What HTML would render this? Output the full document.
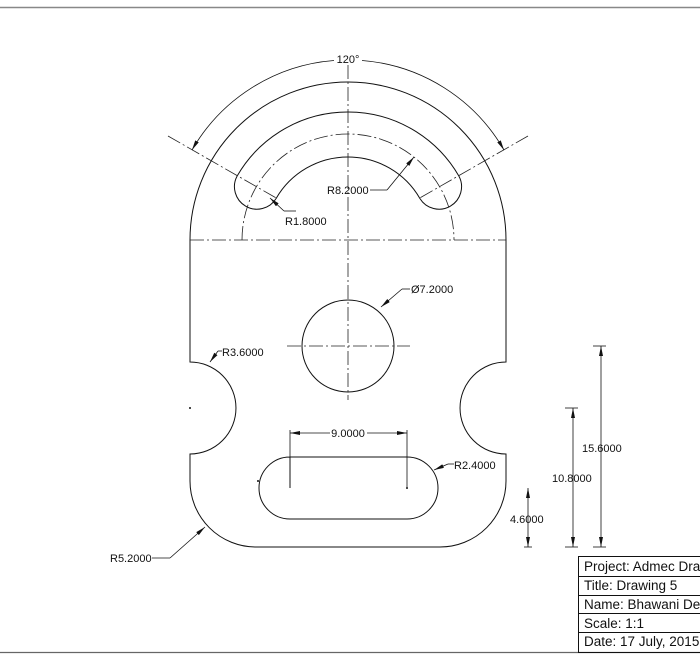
<!DOCTYPE html>
<html><head><style>body{margin:0;background:#fff}svg{display:block}text{font-family:"Liberation Sans",Arial,sans-serif;fill:#111}</style></head><body>
<svg width="700" height="660" viewBox="0 0 700 660" xmlns="http://www.w3.org/2000/svg">
<defs><marker id="a" viewBox="0 0 10 4" refX="10" refY="2" markerWidth="10" markerHeight="4" orient="auto-start-reverse" markerUnits="userSpaceOnUse"><path d="M0 0L10 2L0 4Z" fill="#111"/></marker></defs>
<line x1="0" y1="7.5" x2="700" y2="7.5" stroke="#888" stroke-width="1.5"/>
<line x1="0" y1="652.5" x2="700" y2="652.5" stroke="#666" stroke-width="1.2"/>
<g fill="none" stroke="#111" stroke-width="1">
<path d="M190 362 L190 240 A158 158 0 0 1 506 240 L506 362 A46 46 0 0 0 506 454 L506 481 A66 66 0 0 1 440 547 L256 547 A66 66 0 0 1 190 481 L190 454 A46 46 0 0 0 190 362 Z"/>
<path d="M237.15 176 A128 128 0 0 1 458.85 176 A22.5 22.5 0 0 1 419.9 198.5 A83 83 0 0 0 276.1 198.5 A22.5 22.5 0 0 1 237.15 176 Z"/>
<circle cx="348" cy="346" r="46"/>
<path d="M290 488 L290 457 L407 457 A31 31 0 0 1 407 519 L290 519 A31 31 0 0 1 290 457"/>
</g>
<g fill="none" stroke="#222" stroke-width="0.8" stroke-dasharray="14 3 2 3">
<line x1="190" y1="240" x2="506" y2="240"/>
<line x1="348" y1="65" x2="348" y2="400"/>
<path d="M242 240 A106 106 0 0 1 454 240"/>
<line x1="287" y1="346" x2="410" y2="346"/>
<line x1="168" y1="136" x2="278" y2="199"/>
<line x1="528" y1="136" x2="418" y2="199"/>
</g>
<g fill="none" stroke="#111" stroke-width="0.8">
<path d="M192 150 A180 180 0 0 1 334 60.5" marker-start="url(#a)"/>
<path d="M362 60.5 A180 180 0 0 1 504 150" marker-end="url(#a)"/>
<path d="M218 351 L222 351" /><line x1="218" y1="351" x2="210" y2="362" marker-end="url(#a)"/>
<path d="M170 558 L152 558"/><line x1="170" y1="558" x2="205" y2="527" marker-end="url(#a)"/>
<path d="M448 464 L454 464"/><line x1="448" y1="464" x2="434" y2="470" marker-end="url(#a)"/>
<path d="M402 289 L410 289"/><line x1="402" y1="289" x2="381" y2="307" marker-end="url(#a)"/>
<path d="M387 190 L370 190"/><line x1="387" y1="190" x2="414" y2="157" marker-end="url(#a)"/>
<path d="M296 211 L284 211"/><line x1="284" y1="211" x2="270" y2="198" marker-end="url(#a)"/>
<line x1="290" y1="430" x2="290" y2="487"/><line x1="407" y1="430" x2="407" y2="487"/>
<line x1="290" y1="433" x2="330" y2="433" marker-start="url(#a)"/>
<line x1="367" y1="433" x2="407" y2="433" marker-end="url(#a)"/>
<line x1="528" y1="488" x2="528" y2="547" marker-start="url(#a)" marker-end="url(#a)"/>
<line x1="524" y1="547" x2="532" y2="547"/>
<line x1="573" y1="408" x2="573" y2="547" marker-start="url(#a)" marker-end="url(#a)"/>
<line x1="565" y1="408" x2="578" y2="408"/><line x1="565" y1="547" x2="578" y2="547"/>
<line x1="601" y1="346" x2="601" y2="547" marker-start="url(#a)" marker-end="url(#a)"/>
<line x1="593" y1="346" x2="606" y2="346"/><line x1="593" y1="547" x2="606" y2="547"/>
</g>
<circle cx="190" cy="408" r="1" fill="#111"/><circle cx="258" cy="481" r="1" fill="#111"/><circle cx="407" cy="488" r="1" fill="#111"/>
<g font-size="11">
<rect x="334" y="54" width="28" height="10" fill="#fff"/>
<text x="348" y="63" text-anchor="middle">120°</text>
<text x="327" y="194">R8.2000</text>
<text x="285" y="225">R1.8000</text>
<text x="411" y="293">Ø7.2000</text>
<text x="222" y="356">R3.6000</text>
<text x="454" y="469">R2.4000</text>
<text x="110" y="562">R5.2000</text>
<text x="348" y="437" text-anchor="middle">9.0000</text>
<text x="510" y="523">4.6000</text>
<text x="552" y="482">10.8000</text>
<text x="582" y="452">15.6000</text>
</g>
<g fill="none" stroke="#111" stroke-width="1"><rect x="578.5" y="556.5" width="130" height="96"/>
<line x1="578" y1="576.5" x2="700" y2="576.5"/><line x1="578" y1="595.5" x2="700" y2="595.5"/><line x1="578" y1="613.5" x2="700" y2="613.5"/><line x1="578" y1="632.5" x2="700" y2="632.5"/></g>
<g font-size="13.5">
<text x="584" y="571">Project: Admec Drawing</text>
<text x="584" y="590">Title: Drawing 5</text>
<text x="584" y="609">Name: Bhawani Devi</text>
<text x="584" y="628">Scale: 1:1</text>
<text x="584" y="646">Date: 17 July, 2015</text>
</g>
</svg>
</body></html>
